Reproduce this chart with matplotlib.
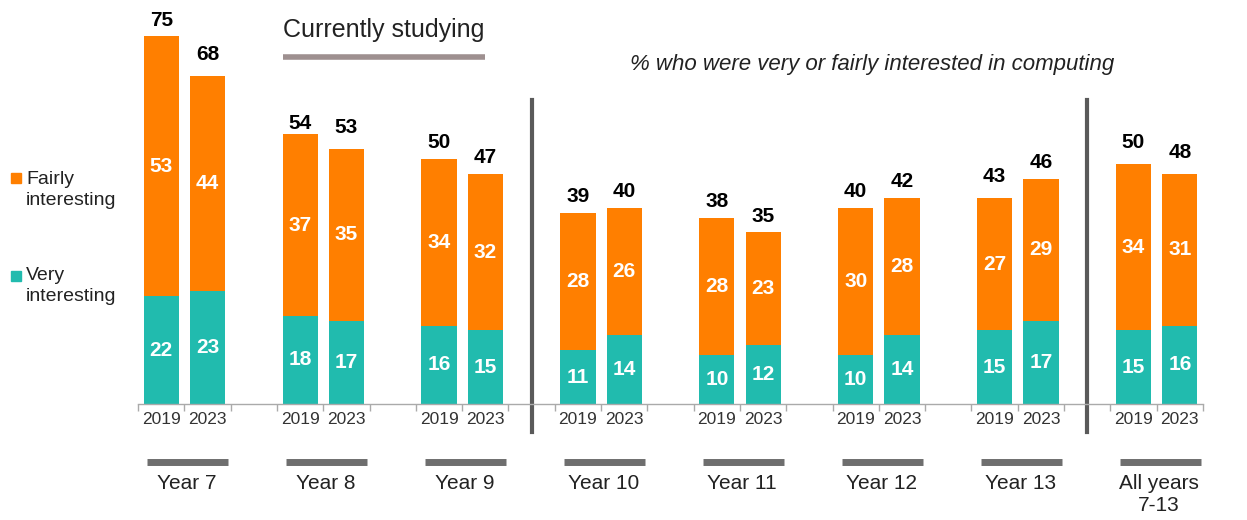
import matplotlib.pyplot as plt
from matplotlib.patches import Rectangle

plt.rcParams['font.family'] = ['Liberation Sans', 'DejaVu Sans']

groups = ["Year 7", "Year 8", "Year 9", "Year 10", "Year 11", "Year 12", "Year 13", "All years\n7-13"]
years = ["2019", "2023"]
very = [[22, 23], [18, 17], [16, 15], [11, 14], [10, 12], [10, 14], [15, 17], [15, 16]]
fairly = [[53, 44], [37, 35], [34, 32], [28, 26], [28, 23], [30, 28], [27, 29], [34, 31]]
totals = [[75, 68], [54, 53], [50, 47], [39, 40], [38, 35], [40, 42], [43, 46], [50, 48]]

teal = "#21BBAE"
orange = "#FF7F00"

fig = plt.figure(figsize=(12.47, 5.2), dpi=100)
ax = fig.add_axes([0.1107, 0.2231, 0.854, 0.7539])

xs, labels = [], []
for g in range(len(groups)):
    for j in range(2):
        x = g * 3 + j + 0.5
        xs.append(x)
        labels.append(years[j])
        v, f, t = very[g][j], fairly[g][j], totals[g][j]
        ax.bar(x, v, width=0.76, color=teal)
        ax.bar(x, f, width=0.76, bottom=v, color=orange)
        ax.text(x, v / 2, str(v), ha='center', va='center', color='white', fontsize=15, fontweight='bold')
        ax.text(x, v + f / 2, str(f), ha='center', va='center', color='white', fontsize=15, fontweight='bold')
        ax.text(x, t + 1.4, str(t), ha='center', va='bottom', color='black', fontsize=15, fontweight='bold')
    c = g * 3 + 1
    ax.plot([c - 0.8, c + 0.95], [-11.8, -11.8], color='#6E6E6E', lw=5, clip_on=False, solid_capstyle='butt')
    ax.text(c + 0.05, -14.2, groups[g], ha='center', va='top', fontsize=15, color='#222222',
            linespacing=1.2)

ax.set_xlim(0, 23)
ax.set_ylim(0, 80)
ax.set_xticks(range(24))
ax.set_xticklabels([])
ax.set_xticks(xs, minor=True)
ax.set_xticklabels(labels, minor=True, fontsize=12.5, color='#333333')
ax.tick_params(axis='x', which='major', length=5, color='#AAAAAA', width=1)
ax.tick_params(axis='x', which='minor', length=0, pad=6)
ax.set_yticks([])
for s in ['top', 'right', 'left']:
    ax.spines[s].set_visible(False)
ax.spines['bottom'].set_color('#AAAAAA')
ax.spines['bottom'].set_linewidth(1)

# separators
for sx in [8.5, 20.5]:
    ax.plot([sx, sx], [-5.7, 62], color='#5A5A5A', lw=3, clip_on=False)

# currently studying
ax.text(5.3, 76.3, "Currently studying", ha='center', va='center', fontsize=18, color='#222222')
ax.plot([3.13, 7.5], [70.8, 70.8], color='#9E9090', lw=4, clip_on=False, solid_capstyle='butt')

ax.text(15.85, 69.2, "% who were very or fairly interested in computing", ha='center', va='center',
        fontsize=16, style='italic', color='#222222')

# legend
fig.patches.append(Rectangle((11 / 1247, 1 - 183 / 520), 10 / 1247, 10 / 520, color=orange,
                             transform=fig.transFigure, figure=fig))
fig.patches.append(Rectangle((11 / 1247, 1 - 281 / 520), 10 / 1247, 10 / 520, color=teal,
                             transform=fig.transFigure, figure=fig))
fig.text(26 / 1247, 1 - 190 / 520, "Fairly\ninteresting", ha='left', va='center', fontsize=14,
         color='#222222', linespacing=1.3)
fig.text(26 / 1247, 1 - 286 / 520, "Very\ninteresting", ha='left', va='center', fontsize=14,
         color='#222222', linespacing=1.3)

fig.savefig("out.png", dpi=100)
